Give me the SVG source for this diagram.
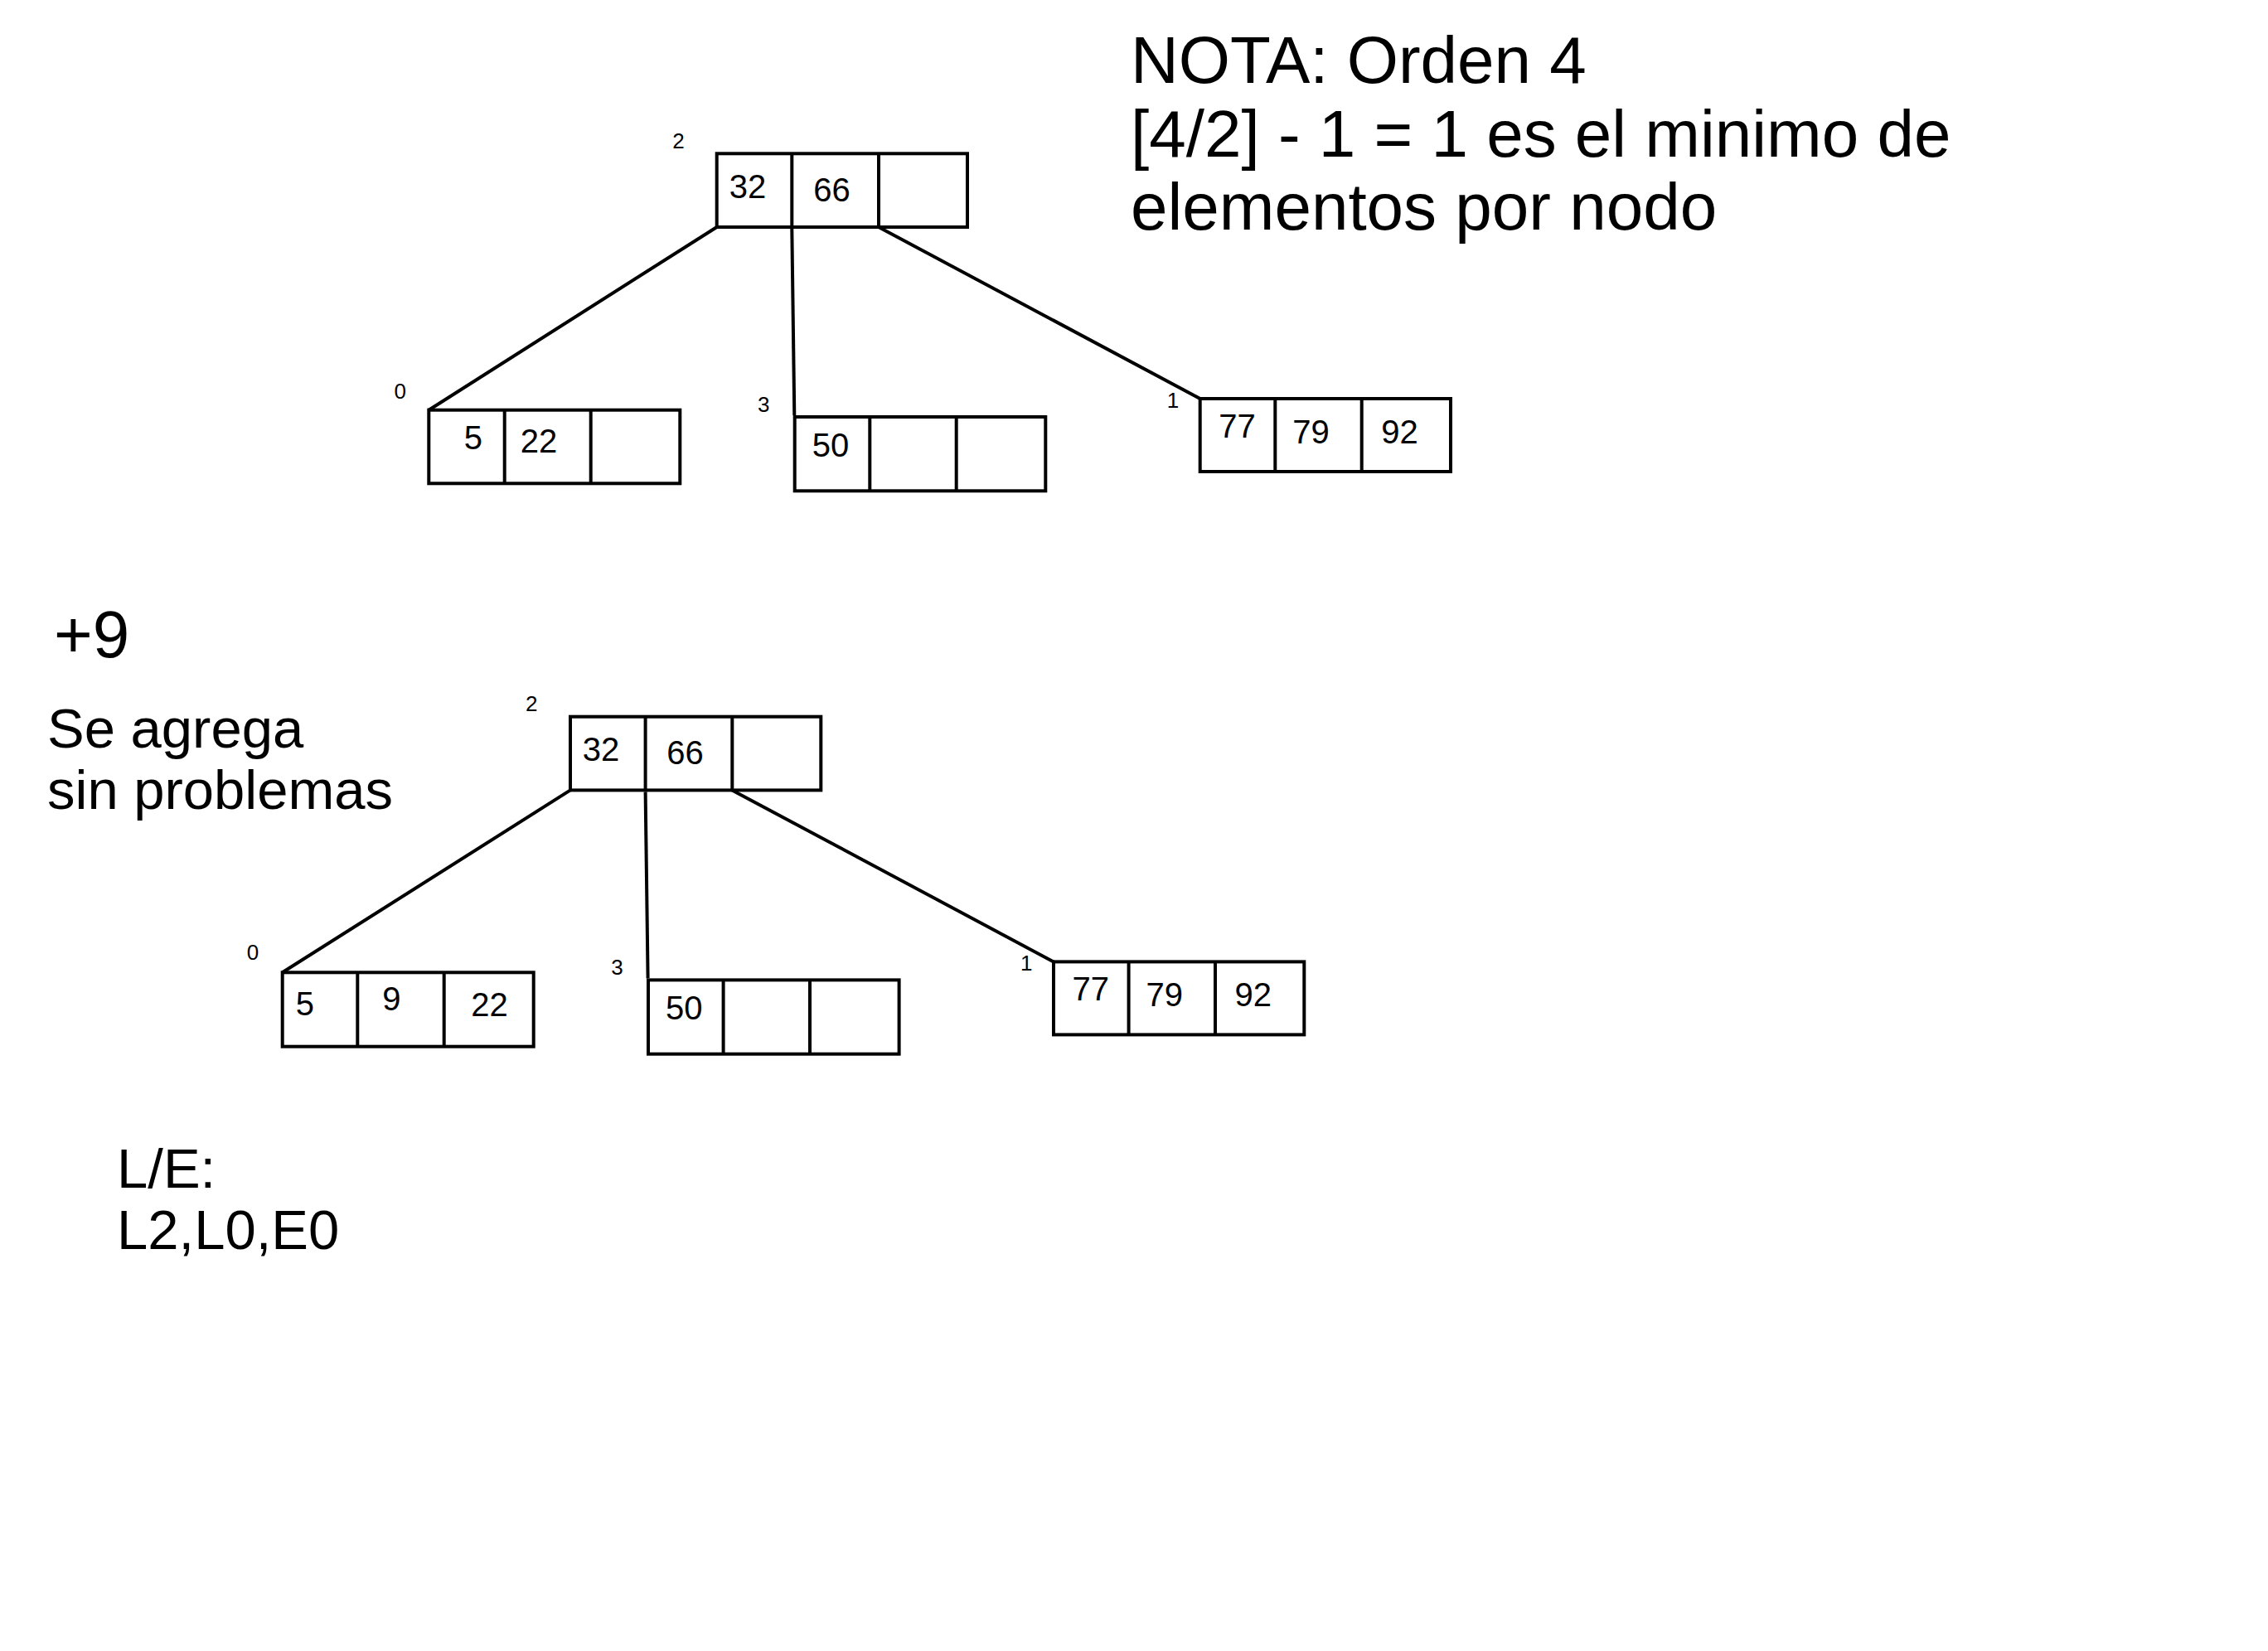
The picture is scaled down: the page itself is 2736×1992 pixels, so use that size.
<svg xmlns="http://www.w3.org/2000/svg" width="2736" height="1992" viewBox="0 0 2736 1992">
<style>
.box{fill:#fff;stroke:#000;stroke-width:4}
.div{stroke:#000;stroke-width:4}
.con{stroke:#000;stroke-width:4;fill:none}
.k{font-family:"Liberation Sans",Arial,sans-serif;font-size:40px;fill:#000;text-anchor:middle}
.lbl{font-family:"Liberation Sans",Arial,sans-serif;font-size:26px;fill:#000;text-anchor:middle}
.big{font-family:"Liberation Sans",Arial,sans-serif;font-size:80px;fill:#000}
.mid{font-family:"Liberation Sans",Arial,sans-serif;font-size:67px;fill:#000}
</style>
<rect width="2736" height="1992" fill="#fff"/>
<g id="connectors">
<line class="con" x1="864.7" y1="274" x2="517.3" y2="494.7"/>
<line class="con" x1="955.3" y1="276" x2="958.3" y2="501"/>
<line class="con" x1="1060" y1="274" x2="1447.7" y2="481"/>
<line class="con" x1="688" y1="953.4" x2="340.7" y2="1173.3"/>
<line class="con" x1="778.6" y1="955.4" x2="781.6" y2="1180.4"/>
<line class="con" x1="883.3" y1="953.4" x2="1271" y2="1160.4"/>
</g>
<g id="rootA">
<rect class="box" x="864.7" y="185.3" width="302.3" height="88.7"/>
<line class="div" x1="955.3" y1="185.3" x2="955.3" y2="274"/>
<line class="div" x1="1060" y1="185.3" x2="1060" y2="274"/>
<text class="k" x="902" y="239">32</text>
<text class="k" x="1003.5" y="243">66</text>
<text class="lbl" x="818.5" y="179">2</text>
</g>
<g id="leftA">
<rect class="box" x="517.3" y="494.7" width="303" height="88.6"/>
<line class="div" x1="608.7" y1="494.7" x2="608.7" y2="583.3"/>
<line class="div" x1="712.7" y1="494.7" x2="712.7" y2="583.3"/>
<text class="k" x="570.9" y="542.3">5</text>
<text class="k" x="649.9" y="545.7">22</text>
<text class="lbl" x="482.7" y="480.7">0</text>
</g>
<g id="middleA">
<rect class="box" x="958.7" y="503" width="302.6" height="89.3"/>
<line class="div" x1="1049.3" y1="503" x2="1049.3" y2="592.3"/>
<line class="div" x1="1153.7" y1="503" x2="1153.7" y2="592.3"/>
<text class="k" x="1001.9" y="551">50</text>
<text class="lbl" x="921.3" y="496.7">3</text>
</g>
<g id="rightA">
<rect class="box" x="1447.7" y="481" width="302.3" height="88"/>
<line class="div" x1="1538.3" y1="481" x2="1538.3" y2="569"/>
<line class="div" x1="1642.7" y1="481" x2="1642.7" y2="569"/>
<text class="k" x="1492.5" y="527.7">77</text>
<text class="k" x="1581.5" y="535">79</text>
<text class="k" x="1688.5" y="535">92</text>
<text class="lbl" x="1415" y="491.7">1</text>
</g>
<g id="rootB">
<rect class="box" x="688" y="864.7" width="302.3" height="88.7"/>
<line class="div" x1="778.6" y1="864.7" x2="778.6" y2="953.4"/>
<line class="div" x1="883.3" y1="864.7" x2="883.3" y2="953.4"/>
<text class="k" x="724.9" y="918.3">32</text>
<text class="k" x="826.5" y="922">66</text>
<text class="lbl" x="641.3" y="858.3">2</text>
</g>
<g id="leftB">
<rect class="box" x="340.7" y="1173.3" width="303" height="89.4"/>
<line class="div" x1="431.3" y1="1173.3" x2="431.3" y2="1262.7"/>
<line class="div" x1="535.7" y1="1173.3" x2="535.7" y2="1262.7"/>
<text class="k" x="367.8" y="1225">5</text>
<text class="k" x="472.3" y="1219.3">9</text>
<text class="k" x="590.5" y="1225.7">22</text>
<text class="lbl" x="305" y="1158.3">0</text>
</g>
<g id="middleB">
<rect class="box" x="782" y="1182.4" width="302.6" height="89.3"/>
<line class="div" x1="872.6" y1="1182.4" x2="872.6" y2="1271.7"/>
<line class="div" x1="977" y1="1182.4" x2="977" y2="1271.7"/>
<text class="k" x="825.2" y="1230.4">50</text>
<text class="lbl" x="744.6" y="1176">3</text>
</g>
<g id="rightB">
<rect class="box" x="1271" y="1160.4" width="302.3" height="88"/>
<line class="div" x1="1361.6" y1="1160.4" x2="1361.6" y2="1248.4"/>
<line class="div" x1="1466" y1="1160.4" x2="1466" y2="1248.4"/>
<text class="k" x="1315.8" y="1207.1">77</text>
<text class="k" x="1404.8" y="1214.4">79</text>
<text class="k" x="1511.8" y="1214.4">92</text>
<text class="lbl" x="1238.3" y="1171.1">1</text>
</g>
<g id="nota">
<text class="big" x="1364" y="100">NOTA: Orden 4</text>
<text class="big" x="1364" y="188.5">[4/2] - 1 = 1 es el minimo de</text>
<text class="big" x="1364" y="277">elementos por nodo</text>
</g>
<g id="notes">
<text class="big" x="65" y="792.7">+9</text>
<text class="mid" x="57" y="901.7">Se agrega</text>
<text class="mid" x="57" y="976">sin problemas</text>
<text class="mid" x="141" y="1432.7">L/E:</text>
<text class="mid" x="141" y="1506.7">L2,L0,E0</text>
</g>
</svg>
